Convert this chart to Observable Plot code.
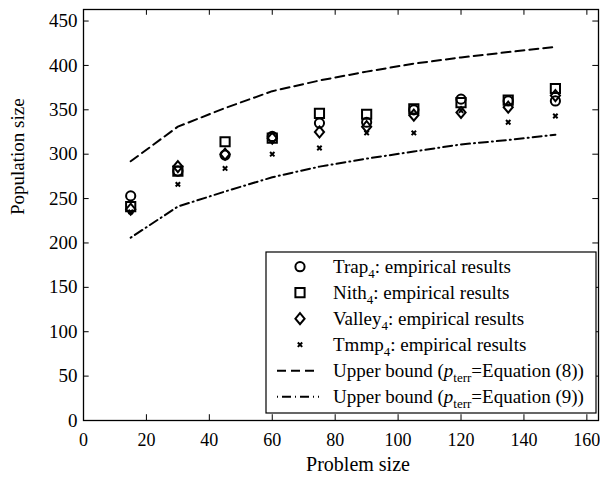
<!DOCTYPE html>
<html><head><meta charset="utf-8">
<script src="https://cdn.jsdelivr.net/npm/d3@7"></script>
<script src="https://cdn.jsdelivr.net/npm/@observablehq/plot@0.6"></script>
<style>
body{margin:0;background:#fff}
#chart{width:600px;height:482px;position:relative}
#chart svg, #chart svg text {font-family: "Liberation Serif", serif !important;}
</style>
</head><body><div id="chart"></div>
<script>
const problemSize = [15, 30, 45, 60, 75, 90, 105, 120, 135, 150];
const trap   = [253, 281, 299, 320, 335, 336, 350, 362, 360, 360];
const nith   = [241, 281, 314, 318, 346, 345, 351, 358, 361, 374];
const valley = [238, 286, 300, 318, 325, 331, 344, 347, 353, 366];
const tmmp   = [235, 266, 284, 300, 307, 324, 324, 349, 336, 343];
const upperEq8 = [292, 331, 352, 371, 383, 393, 402, 409, 415, 421];
const upperEq9 = [206, 241, 258, 274, 286, 295, 303, 311, 316, 322];
const xTicks = [0, 20, 40, 60, 80, 100, 120, 140, 160];
const yTicks = [0, 50, 100, 150, 200, 250, 300, 350, 400, 450];
const xDomain = [0, 163.7];
const yDomain = [0, 463];

const FONT = "Liberation Serif, serif";

// custom MATLAB-like marker shapes
const rad = s => Math.sqrt(s / Math.PI);
const symSquare = {draw(c, s) { const r = rad(s); c.moveTo(-r, -r); c.lineTo(r, -r); c.lineTo(r, r); c.lineTo(-r, r); c.closePath(); }};
const symDiamond = {draw(c, s) { const r = rad(s); c.moveTo(0, -r * 1.2); c.lineTo(r, 0); c.lineTo(0, r * 1.2); c.lineTo(-r, 0); c.closePath(); }};
const symTimes = {draw(c, s) { const r = rad(s); c.moveTo(-r, -r); c.lineTo(r, r); c.moveTo(r, -r); c.lineTo(-r, r); }};

const rows = (ys) => problemSize.map((x, i) => ({x, y: ys[i]}));

const tickLenY = 6.5;   // in y data units (~5.8px)
const tickLenX = 1.8;   // in x data units (~5.7px)

const chart = Plot.plot({
  width: 600, height: 482,
  marginLeft: 83, marginRight: 2, marginTop: 9, marginBottom: 62,
  style: {fontFamily: FONT, fontSize: "18px", color: "black", background: "white"},
  x: {domain: xDomain, label: null},
  y: {domain: yDomain, label: null},
  marks: [
    Plot.axisX(xTicks, {tickSize: 0, tickPadding: 13, fontSize: 18, label: null}),
    Plot.axisY(yTicks, {tickSize: 0, tickPadding: 6, fontSize: 19, label: null}),
    // inward ticks on all four sides
    Plot.ruleX(xTicks, {x: d => d, y1: yDomain[0], y2: yDomain[0] + tickLenY, stroke: "black", strokeWidth: 1}),
    Plot.ruleX(xTicks, {x: d => d, y1: yDomain[1], y2: yDomain[1] - tickLenY, stroke: "black", strokeWidth: 1}),
    Plot.ruleY(yTicks, {y: d => d, x1: xDomain[0], x2: xDomain[0] + tickLenX, stroke: "black", strokeWidth: 1}),
    Plot.ruleY(yTicks, {y: d => d, x1: xDomain[1], x2: xDomain[1] - tickLenX, stroke: "black", strokeWidth: 1}),
    Plot.line(rows(upperEq8), {x: "x", y: "y", stroke: "black", strokeWidth: 2, strokeDasharray: "9,5"}),
    Plot.line(rows(upperEq9), {x: "x", y: "y", stroke: "black", strokeWidth: 2, strokeDasharray: "1,4,9,4"}),
    Plot.dot(rows(trap), {x: "x", y: "y", symbol: d3.symbolCircle, r: 4.6, stroke: "black", strokeWidth: 2, fill: "none"}),
    Plot.dot(rows(nith), {x: "x", y: "y", symbol: symSquare, r: 4.6, stroke: "black", strokeWidth: 2, fill: "none"}),
    Plot.dot(rows(valley), {x: "x", y: "y", symbol: symDiamond, r: 4.6, stroke: "black", strokeWidth: 2, fill: "none"}),
    Plot.dot(rows(tmmp), {x: "x", y: "y", symbol: symTimes, r: 2.2, stroke: "black", strokeWidth: 2, fill: "none"}),
    Plot.frame({stroke: "black", strokeWidth: 1.3}),
    Plot.text(["Problem size"], {frameAnchor: "bottom", dx: 17, dy: 50, fontSize: 20, lineAnchor: "bottom", fill: "black"}),
    Plot.text(["Population size"], {frameAnchor: "left", dx: -66, rotate: -90, fontSize: 19, fill: "black"})
  ]
});
document.getElementById("chart").appendChild(chart);

// legend
const svg = d3.select(chart);
const lg = svg.append("g").attr("font-family", FONT).attr("font-size", 19).attr("fill", "black").attr("text-anchor", "start");
const box = {x: 266, y: 252, w: 330, h: 161};
lg.append("rect").attr("x", box.x).attr("y", box.y).attr("width", box.w).attr("height", box.h)
  .attr("fill", "white").attr("stroke", "black").attr("stroke-width", 1.2);

const legendItems = [
  {kind: "sym", sym: d3.symbolCircle, r: 4.6, parts: [["Trap"], ["4", "sub"], [": empirical results"]]},
  {kind: "sym", sym: symSquare, r: 4.6, parts: [["Nith"], ["4", "sub"], [": empirical results"]]},
  {kind: "sym", sym: symDiamond, r: 4.6, parts: [["Valley"], ["4", "sub"], [": empirical results"]]},
  {kind: "sym", sym: symTimes, r: 2.2, parts: [["Tmmp"], ["4", "sub"], [": empirical results"]]},
  {kind: "line", dash: "9,5", parts: [["Upper bound ("], ["p", "it"], ["terr", "sub"], ["=Equation (8))"]]},
  {kind: "line", dash: "1,4,9,4", parts: [["Upper bound ("], ["p", "it"], ["terr", "sub"], ["=Equation (9))"]]}
];
legendItems.forEach((it, i) => {
  const cy = box.y + 14.7 + i * 26;
  if (it.kind === "sym") {
    lg.append("path").attr("transform", `translate(300,${cy})`)
      .attr("d", d3.symbol().type(it.sym).size(Math.PI * it.r * it.r)())
      .attr("fill", "none").attr("stroke", "black").attr("stroke-width", 2);
  } else {
    lg.append("line").attr("x1", 277).attr("x2", 319).attr("y1", cy).attr("y2", cy)
      .attr("stroke", "black").attr("stroke-width", 2).attr("stroke-dasharray", it.dash);
  }
  const t = lg.append("text").attr("x", 333).attr("y", cy + 6).attr("text-anchor", "start");
  let shifted = false;
  it.parts.forEach(([s, k]) => {
    const ts = t.append("tspan").text(s);
    if (k === "sub") { ts.attr("font-size", 13).attr("dy", shifted ? 0 : 5); shifted = true; }
    else {
      if (shifted) { ts.attr("dy", -5); shifted = false; }
      if (k === "it") ts.attr("font-style", "italic");
    }
  });
});
</script>
</body></html>
